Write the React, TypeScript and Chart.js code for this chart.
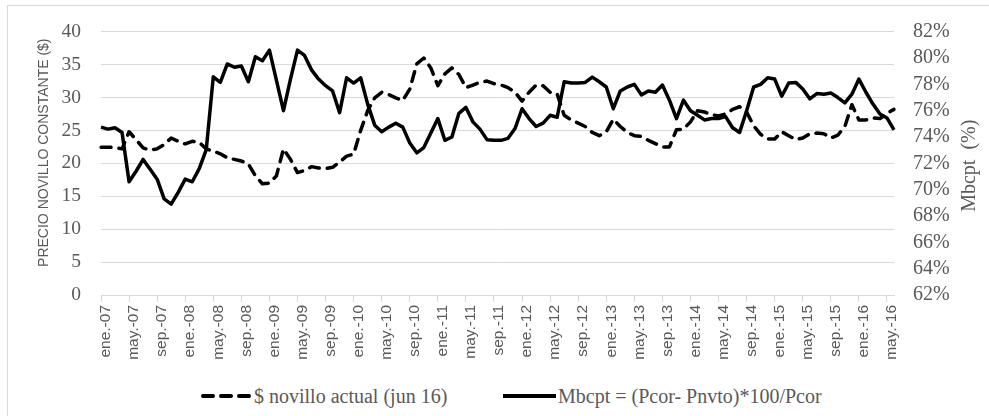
import React, { useEffect, useRef } from 'react';
import { Chart, registerables } from 'chart.js';

Chart.register(...registerables);

// ---- Data ----
const MONTHS = ['ene.', 'feb.', 'mar.', 'abr.', 'may.', 'jun.', 'jul.', 'ago.', 'sep.', 'oct.', 'nov.', 'dic.'];
const YEARS = ['07', '08', '09', '10', '11', '12', '13', '14', '15', '16'];

// $ novillo actual (jun 16) — left axis ($)
const PRICE = [
  22.45, 22.45, 22.4, 22.2, 24.8, 23.6, 22.35, 22.0, 22.2, 22.85, 23.85, 23.35,
  22.95, 23.35, 23.2, 22.2, 21.85, 21.45, 20.85, 20.6, 20.35, 19.9, 18.1, 16.9,
  17.0, 18.1, 22.2, 20.6, 18.6, 18.9, 19.5, 19.3, 19.2, 19.4, 20.2, 21.1,
  21.4, 25.0, 28.0, 29.95, 30.8, 30.45, 29.95, 29.55, 31.3, 35.1, 36.0, 34.5,
  31.8, 33.6, 34.5, 33.5, 31.5, 31.9, 32.3, 32.5, 32.1, 31.9, 31.5, 30.8,
  29.45, 30.8, 31.9, 31.8, 30.8, 30.55, 27.3, 26.6, 26.1, 25.6, 24.7, 24.2,
  24.8, 26.7, 25.6, 24.7, 24.2, 24.1, 23.5, 23.0, 22.5, 22.5, 25.1, 25.2,
  26.3, 28.0, 27.8, 27.4, 27.2, 27.5, 28.2, 28.6, 27.8, 25.7, 24.4, 23.7,
  23.7, 24.8, 24.2, 23.6, 23.85, 24.5, 24.6, 24.5, 23.85, 24.3, 25.6, 28.9,
  26.6, 26.6, 26.9, 26.8, 27.6, 28.2,
];

// Mbcpt = (Pcor- Pnvto)*100/Pcor — right axis (%)
const MARGIN = [
  74.75, 74.6, 74.7, 74.35, 70.6, 71.4, 72.3, 71.55, 70.8, 69.3, 68.9, 69.8,
  70.8, 70.6, 71.6, 73.05, 78.57, 78.15, 79.55, 79.3, 79.4, 78.2, 80.1, 79.8,
  80.6, 78.3, 76.0, 78.4, 80.6, 80.2, 79.1, 78.4, 77.9, 77.5, 75.85, 78.5,
  78.1, 78.5, 76.5, 74.9, 74.4, 74.75, 75.05, 74.75, 73.55, 72.8, 73.2, 74.3,
  75.4, 73.75, 74.0, 75.8, 76.25, 75.15, 74.6, 73.8, 73.75, 73.75, 73.9, 74.65,
  76.15, 75.4, 74.8, 75.05, 75.65, 75.5, 78.2, 78.1, 78.1, 78.15, 78.55, 78.2,
  77.8, 76.15, 77.5, 77.8, 78.0, 77.2, 77.5, 77.4, 77.95, 76.8, 75.4, 76.8,
  76.0, 75.65, 75.3, 75.4, 75.4, 75.55, 74.7, 74.35, 76.0, 77.8, 78.0, 78.5,
  78.4, 77.1, 78.1, 78.15, 77.65, 76.9, 77.3, 77.25, 77.35, 77.0, 76.6, 77.25,
  78.4, 77.4, 76.5, 75.75, 75.45, 74.55,
];

const CATEGORIES = YEARS.flatMap((y) => MONTHS.map((m) => `${m}-${y}`)).slice(0, PRICE.length);

const PRICE_LABEL = '$ novillo actual (jun 16)';
const MARGIN_LABEL = 'Mbcpt = (Pcor- Pnvto)*100/Pcor';
const LEFT_TITLE = 'PRECIO NOVILLO CONSTANTE ($)';
const RIGHT_TITLE = 'Mbcpt  (%)';

const GRAY_TEXT = '#595959';
const GRID = '#d9d9d9';
const SERIF = '"Liberation Serif", "Times New Roman", Times, serif';
const SANS = '"Liberation Sans", Arial, sans-serif';

const axisTitlesPlugin = {
  id: 'axisTitles',
  afterDraw(chart: any) {
    const { ctx, chartArea } = chart;
    ctx.save();
    ctx.fillStyle = GRAY_TEXT;
    ctx.textAlign = 'center';
    ctx.textBaseline = 'middle';

    ctx.save();
    ctx.font = `14px ${SANS}`;
    ctx.translate(chartArea.left - 57, chartArea.top + 121);
    ctx.rotate(-Math.PI / 2);
    ctx.fillText(LEFT_TITLE, 0, 0);
    ctx.restore();

    ctx.save();
    ctx.font = `20px ${SERIF}`;
    ctx.translate(chartArea.right + 76, chartArea.top + 134);
    ctx.rotate(-Math.PI / 2);
    ctx.fillText(RIGHT_TITLE, 0, 0);
    ctx.restore();

    ctx.restore();
  },
};

export default function App() {
  const canvasRef = useRef<HTMLCanvasElement | null>(null);

  useEffect(() => {
    if (!canvasRef.current) return;
    const chart = new Chart(canvasRef.current, {
      type: 'line',
      data: {
        labels: CATEGORIES,
        datasets: [
          {
            label: PRICE_LABEL,
            data: PRICE,
            yAxisID: 'y',
            borderColor: '#000000',
            backgroundColor: '#000000',
            borderWidth: 3.5,
            borderDash: [10, 8],
            borderCapStyle: 'round',
            borderJoinStyle: 'round',
            pointRadius: 0,
            tension: 0,
            fill: false,
          },
          {
            label: MARGIN_LABEL,
            data: MARGIN,
            yAxisID: 'y1',
            borderColor: '#000000',
            backgroundColor: '#000000',
            borderWidth: 3.5,
            borderJoinStyle: 'round',
            pointRadius: 0,
            tension: 0,
            fill: false,
          },
        ],
      },
      options: {
        animation: false,
        responsive: true,
        maintainAspectRatio: false,
        layout: { padding: { top: 26.7, left: 0, right: 0, bottom: 0 } },
        plugins: {
          legend: { display: false },
          tooltip: { enabled: false },
          title: { display: false },
        },
        scales: {
          x: {
            type: 'category',
            offset: false,
            grid: {
              display: true,
              drawOnChartArea: false,
              drawTicks: true,
              tickLength: 7,
              color: GRID,
            },
            border: { display: true, color: GRID, width: 1 },
            ticks: {
              autoSkip: false,
              minRotation: 90,
              maxRotation: 90,
              padding: 3,
              labelOffset: 5,
              color: GRAY_TEXT,
              font: { family: SANS, size: 15.5 },
              callback: (_v: any, i: number) => (i % 4 === 0 ? CATEGORIES[i] : null),
            },
            afterFit: (s: any) => {
              s.height = 85;
            },
          },
          y: {
            position: 'left',
            min: 0,
            max: 40,
            ticks: {
              stepSize: 5,
              autoSkip: false,
              padding: 20,
              color: GRAY_TEXT,
              font: { family: SERIF, size: 19.5 },
            },
            grid: { color: GRID, drawTicks: false, lineWidth: 1 },
            border: { display: false },
            afterFit: (s: any) => {
              s.width = 101;
            },
          },
          y1: {
            position: 'right',
            min: 62,
            max: 82,
            ticks: {
              stepSize: 2,
              autoSkip: false,
              padding: 19,
              color: GRAY_TEXT,
              font: { family: SERIF, size: 20 },
              callback: (v: any) => `${v}%`,
            },
            grid: { display: false, drawOnChartArea: false, drawTicks: false },
            border: { display: false },
            afterFit: (s: any) => {
              s.width = 95;
            },
          },
        },
      } as any,
      plugins: [axisTitlesPlugin],
    });
    return () => chart.destroy();
  }, []);

  const legendText: React.CSSProperties = {
    position: 'absolute',
    top: 384,
    height: 24,
    display: 'flex',
    alignItems: 'center',
    fontFamily: SERIF,
    fontSize: 20,
    color: GRAY_TEXT,
    whiteSpace: 'nowrap',
  };

  return (
    <>
      <div
        style={{
          position: 'absolute',
          left: 7,
          top: 5,
          width: 982,
          height: 411,
          borderTop: `1px solid ${GRID}`,
          borderLeft: `1px solid ${GRID}`,
          boxSizing: 'border-box',
        }}
      />
      <div style={{ position: 'absolute', left: 0, top: 0, width: 989, height: 380 }}>
        <canvas ref={canvasRef} />
      </div>
      <div style={{ ...legendText, left: 201 }}>
        <svg width={51} height={8} style={{ display: 'block' }}>
          <line x1={2} y1={4} x2={49} y2={4} stroke="#000" strokeWidth={4} strokeDasharray="10 8" strokeLinecap="round" />
        </svg>
        <span style={{ marginLeft: 2 }}>{PRICE_LABEL}</span>
      </div>
      <div style={{ ...legendText, left: 503 }}>
        <svg width={53} height={8} style={{ display: 'block' }}>
          <line x1={0} y1={4} x2={53} y2={4} stroke="#000" strokeWidth={4} />
        </svg>
        <span style={{ marginLeft: 2 }}>{MARGIN_LABEL}</span>
      </div>
    </>
  );
}
